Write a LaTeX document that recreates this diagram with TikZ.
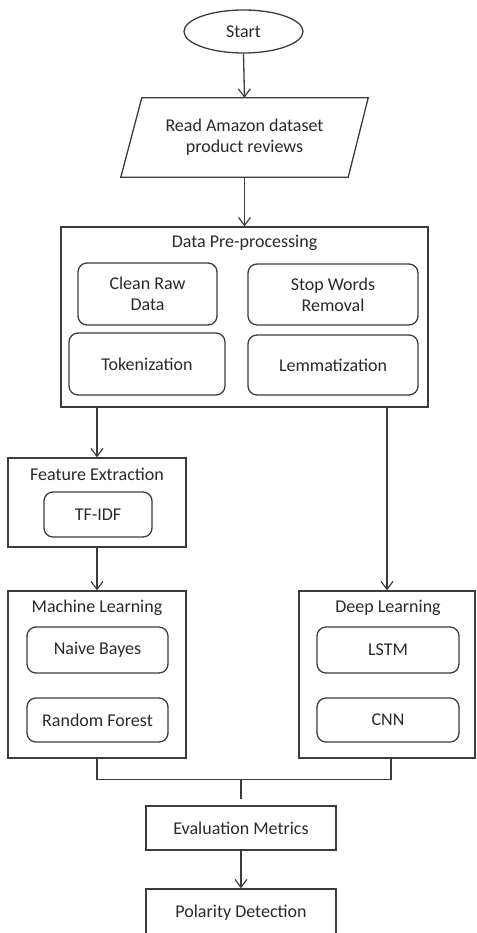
\documentclass[tikz,border=0pt]{standalone}
\usepackage{fontspec}
\setmainfont{Carlito}
\usetikzlibrary{arrows.meta,shapes.geometric}
\definecolor{ln}{HTML}{3C3C3C}
\definecolor{tx}{HTML}{2A2A2A}
\begin{document}
\begin{tikzpicture}[x=1pt,y=-1pt,
  every node/.style={font=\fontsize{18}{21}\selectfont, text=tx, inner sep=0pt, align=center},
  line/.style={draw=ln, line width=1.3pt},
  arr/.style={line, -{Straight Barb[length=8pt,width=12pt,line width=1.2pt]}},
  inbox/.style={line, rounded corners=9pt}
]
\useasboundingbox (0,0) rectangle (476,933);
\clip (0,0) rectangle (476,933);
\fill[white] (0,0) rectangle (476,933);

% start
\node[line, ellipse, minimum width=119pt, minimum height=43pt] (start) at (243.5,31.5) {Start};

% read (parallelogram)
\node[minimum width=247pt, minimum height=79pt] (read) at (244.5,137.5) {Read Amazon dataset\\product reviews};
\draw[line] ([xshift=21pt]read.north west) -- (read.north east) -- ([xshift=-20pt]read.south east) -- (read.south west) -- cycle;

% data pre-processing
\node[line, minimum width=367pt, minimum height=180pt] (pre) at (244.5,317) {};
\node (pret) at (244.5,243) {Data Pre-processing};
\node[inbox, minimum width=139pt, minimum height=62pt] (clean) at (147.5,294) {Clean Raw\\Data};
\node[inbox, minimum width=170pt, minimum height=61pt] (stop) at (333,294.5) {Stop Words\\Removal};
\node[inbox, minimum width=156pt, minimum height=62pt] (tok) at (147,364) {Tokenization};
\node[inbox, minimum width=170pt, minimum height=60pt] (lem) at (333,365) {Lemmatization};

% feature extraction
\node[line, minimum width=178pt, minimum height=89pt] (fe) at (97,502.5) {};
\node (fet) at (97,474) {Feature Extraction};
\node[inbox, minimum width=108pt, minimum height=45pt] (tfidf) at (98,514.5) {TF-IDF};

% machine learning
\node[line, minimum width=178pt, minimum height=167pt] (ml) at (97,674.5) {};
\node (mlt) at (97,608) {Machine Learning};
\node[inbox, minimum width=141pt, minimum height=46pt] (nb) at (97.5,650) {Naive Bayes};
\node[inbox, minimum width=141pt, minimum height=44pt] (rf) at (97.5,720) {Random Forest};

% deep learning
\node[line, minimum width=176pt, minimum height=167pt] (dl) at (387,674.5) {};
\node (dlt) at (388,608) {Deep Learning};
\node[inbox, minimum width=142pt, minimum height=46pt] (lstm) at (388,650) {LSTM};
\node[inbox, minimum width=142pt, minimum height=44pt] (cnn) at (388,720) {CNN};

% evaluation & polarity
\node[line, minimum width=190pt, minimum height=44pt] (ev) at (241,828) {Evaluation Metrics};
\node[line, minimum width=190pt, minimum height=48pt] (pol) at (241,913) {Polarity Detection};

% connectors
\draw[arr] (start.south) -- (read.north);
\draw[arr] (read.south) -- (pre.north);
\draw[arr] (fe.north |- pre.south) -- (fe.north);
\draw[arr] (fe.south) -- (ml.north);
\draw[arr] (dl.north |- pre.south) -- (dl.north);
\coordinate (mlj) at ([yshift=-21pt]ml.south);
\coordinate (dlj) at ([xshift=4pt,yshift=-21pt]dl.south);
\coordinate (join) at (ev.north |- mlj);
\draw[line] (ml.south) -- (mlj) -- (dlj) -- ([xshift=4pt]dl.south);
\draw[line, shorten >=6pt] (join) -- (ev.north);
\draw[arr] (ev.south) -- (pol.north);
\end{tikzpicture}
\end{document}
